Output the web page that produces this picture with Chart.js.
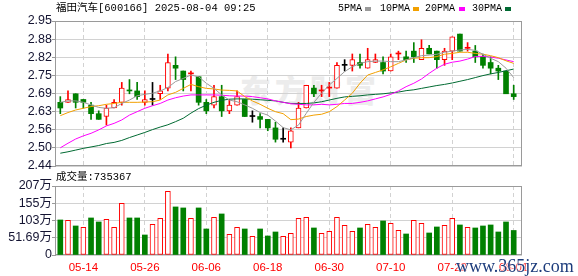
<!DOCTYPE html>
<html><head><meta charset="utf-8">
<script src="https://cdn.jsdelivr.net/npm/chart.js@4.4.1/dist/chart.umd.min.js"></script>
<style>
html,body{margin:0;padding:0;background:#fff;}
#wrap{position:relative;width:578px;height:276px;overflow:hidden;background:#fff;}
canvas{position:absolute;left:0;}
#price{top:0;}
#vol{top:170px;}
.t{position:absolute;white-space:nowrap;font-family:"Liberation Mono","Noto Sans CJK SC",monospace;color:#000;}
#title{left:56px;top:1px;font-size:10.5px;line-height:14px;}
.lg{top:2px;font-size:10px;line-height:14px;}
.sq{position:absolute;top:7px;width:6px;height:4px;}
#wm{position:absolute;left:240px;top:66px;font-family:"Noto Sans CJK SC";font-weight:900;font-size:31px;color:#ececec;letter-spacing:4px;white-space:nowrap;}
#voltitle{left:56px;top:170px;font-size:10.5px;line-height:14px;}
#site{position:absolute;left:456px;top:256px;font-family:"Liberation Serif",serif;font-size:18px;line-height:20px;color:#1d3c7c;white-space:nowrap;text-shadow:0 0 2px #fff,0 0 2px #fff,0 0 3px #fff;}
</style></head>
<body>
<div id="wrap">
<div id="wm">东方财富</div>
<canvas id="price" width="578" height="178"></canvas>
<canvas id="vol" width="578" height="106"></canvas>
<div id="title" class="t"></div>
<div id="legend"></div>
<div id="voltitle" class="t"></div>
<div id="site">www.365jz.com</div>
</div>
<script>
// ---------------- data ----------------
const stockTitle = '福田汽车[600166] 2025-08-04 09:25';
const dates = ['05-09','05-12','05-13','05-14','05-15','05-16','05-19','05-20','05-21','05-22',
  '05-23','05-26','05-27','05-28','05-29','05-30','06-03','06-04','06-05','06-06',
  '06-09','06-10','06-11','06-12','06-13','06-16','06-17','06-18','06-19','06-20',
  '06-23','06-24','06-25','06-26','06-27','06-30','07-01','07-02','07-03','07-04',
  '07-07','07-08','07-09','07-10','07-11','07-14','07-15','07-16','07-17','07-18',
  '07-21','07-22','07-23','07-24','07-25','07-28','07-29','07-30','07-31','08-01'];
const xTickLabels = ['05-14','05-26','06-06','06-18','06-30','07-10','07-22','08-01'];

const open = [2.66,2.66,2.69,2.67,2.65,2.62,2.61,2.64,2.66,2.70,
  2.70,2.66,2.67,2.69,2.71,2.79,2.77,2.76,2.75,2.66,
  2.65,2.68,2.63,2.65,2.67,2.61,2.61,2.60,2.57,2.53,
  2.52,2.57,2.64,2.71,2.70,2.71,2.71,2.79,2.79,2.80,
  2.78,2.80,2.80,2.77,2.83,2.82,2.84,2.81,2.85,2.84,
  2.81,2.84,2.90,2.85,2.84,2.82,2.80,2.78,2.77,2.69];
const high = [2.68,2.70,2.69,2.67,2.66,2.63,2.65,2.67,2.73,2.74,
  2.73,2.70,2.73,2.72,2.83,2.82,2.77,2.77,2.75,2.67,
  2.72,2.72,2.67,2.70,2.67,2.63,2.62,2.60,2.59,2.57,
  2.57,2.66,2.72,2.72,2.72,2.73,2.80,2.81,2.83,2.83,
  2.85,2.83,2.82,2.83,2.84,2.84,2.87,2.88,2.86,2.84,
  2.85,2.89,2.90,2.87,2.86,2.83,2.82,2.79,2.77,2.72];
const low = [2.62,2.66,2.64,2.64,2.60,2.60,2.58,2.64,2.65,2.69,
  2.67,2.65,2.65,2.67,2.70,2.74,2.70,2.70,2.65,2.62,
  2.64,2.61,2.62,2.65,2.61,2.59,2.57,2.56,2.52,2.52,
  2.50,2.57,2.64,2.68,2.68,2.68,2.71,2.77,2.77,2.78,
  2.78,2.80,2.76,2.77,2.81,2.80,2.80,2.81,2.83,2.78,
  2.79,2.81,2.84,2.84,2.80,2.78,2.76,2.74,2.69,2.67];
const close = [2.64,2.67,2.66,2.66,2.62,2.60,2.64,2.66,2.71,2.70,
  2.68,2.67,2.67,2.70,2.80,2.78,2.74,2.76,2.66,2.63,
  2.68,2.63,2.65,2.68,2.61,2.61,2.60,2.57,2.53,2.53,
  2.56,2.64,2.72,2.69,2.70,2.71,2.79,2.79,2.81,2.79,
  2.81,2.81,2.77,2.82,2.83,2.81,2.82,2.85,2.83,2.81,
  2.84,2.89,2.84,2.85,2.82,2.79,2.78,2.77,2.69,2.68];
// volume in 万股
const volume = [105,104,87,83,111,99,107,83,155,111,
  111,60,92,110,191,144,141,110,141,78,
  113,123,62,83,78,56,78,57,69,56,
  65,110,113,81,65,71,113,89,71,81,
  92,83,102,95,74,63,104,95,66,84,
  89,110,90,83,81,87,90,69,99,73.5367];
const lastVolume = 735367;

const ma5 = [2.660,2.665,2.665,2.660,2.651,2.642,2.639,2.641,2.656,2.668,
  2.683,2.688,2.692,2.700,2.712,2.733,2.744,2.756,2.750,2.727,
  2.709,2.686,2.668,2.662,2.651,2.639,2.624,2.615,2.594,2.571,
  2.563,2.580,2.621,2.660,2.692,2.721,2.744,2.768,2.785,2.797,
  2.803,2.805,2.805,2.803,2.803,2.809,2.817,2.824,2.826,2.829,
  2.836,2.840,2.844,2.846,2.843,2.829,2.815,2.803,2.780,2.747];
const ma10 = [2.613,2.624,2.633,2.639,2.645,2.648,2.653,2.656,2.660,2.660,
  2.660,2.661,2.662,2.668,2.686,2.695,2.709,2.723,2.715,2.709,
  2.707,2.703,2.702,2.700,2.680,2.665,2.653,2.639,2.627,2.620,
  2.599,2.601,2.610,2.615,2.618,2.627,2.645,2.668,2.692,2.727,
  2.756,2.765,2.774,2.785,2.797,2.809,2.815,2.817,2.817,2.821,
  2.829,2.832,2.836,2.836,2.832,2.829,2.824,2.817,2.806,2.797];
const ma20 = [2.500,2.516,2.531,2.542,2.551,2.563,2.577,2.586,2.598,2.615,
  2.627,2.639,2.648,2.656,2.668,2.676,2.682,2.686,2.686,2.686,
  2.686,2.685,2.683,2.682,2.682,2.680,2.676,2.672,2.665,2.660,
  2.655,2.653,2.651,2.651,2.653,2.651,2.653,2.656,2.656,2.660,
  2.665,2.672,2.679,2.688,2.700,2.715,2.727,2.742,2.762,2.780,
  2.794,2.801,2.805,2.812,2.821,2.822,2.819,2.815,2.809,2.803];
const ma30 = [2.481,2.486,2.492,2.498,2.503,2.508,2.515,2.519,2.526,2.536,
  2.545,2.554,2.564,2.573,2.581,2.592,2.604,2.622,2.638,2.650,
  2.660,2.667,2.671,2.672,2.672,2.671,2.669,2.667,2.665,2.660,
  2.656,2.656,2.656,2.658,2.662,2.668,2.674,2.679,2.681,2.683,
  2.686,2.688,2.690,2.693,2.696,2.701,2.704,2.709,2.714,2.719,
  2.723,2.728,2.734,2.740,2.747,2.754,2.760,2.765,2.771,2.777];

const priceTickLabels = ['2.44','2.50','2.56','2.63','2.69','2.75','2.82','2.88','2.95'];
const priceMin = 2.436, priceMax = 2.946;
const volTickLabels = ['0','51.69万','103万','155万','207万'];
const volMax = 206.76;
const legendNames = ['5PMA','10PMA','20PMA','30PMA'];

// ---------------- style ----------------
const RED = '#ff0000', GREEN = '#008000', BLACK = '#000000';
const maColors = ['#9a9a9a','#f2a000','#ff00ff','#006a32'];
const FRAME = '#9a9a9a', GRID = '#d2d2d2';
const LABEL = '#141432';
const xMin = -0.69, xMax = 60.08;

document.getElementById('title').textContent = stockTitle;
document.getElementById('voltitle').textContent = '成交量:' + lastVolume;
const lgPos = [[338,365],[380,413],[425,459],[472,505]];
const lg = document.getElementById('legend');
legendNames.forEach((n,i)=>{
  const t = document.createElement('div'); t.className='t lg'; t.style.left=lgPos[i][0]+'px'; t.textContent=n; lg.appendChild(t);
  const s = document.createElement('div'); s.className='sq'; s.style.left=lgPos[i][1]+'px'; s.style.background=maColors[i]; lg.appendChild(s);
});

const candleCol = close.map((c,i)=> c>open[i] ? RED : c<open[i] ? GREEN :
  (i===0 ? BLACK : c>close[i-1] ? RED : c<close[i-1] ? GREEN : BLACK));
const hollow = close.map((c,i)=> c>open[i]);
const volUp = close.map((c,i)=> i===0 ? c>=open[i] : c>=close[i-1]);
const tickIdx = xTickLabels.map(l=>dates.indexOf(l));

const framePlugin = {
  id:'frame',
  beforeDatasetsDraw(chart){
    const {ctx, chartArea:a} = chart;
    ctx.save(); ctx.strokeStyle = FRAME; ctx.lineWidth = 1;
    ctx.strokeRect(Math.round(a.left)+0.5, Math.round(a.top)+0.5, Math.round(a.right-a.left)-1, Math.round(a.bottom-a.top)-1);
    ctx.restore();
  }
};

Chart.defaults.font.family = '"Liberation Sans","Noto Sans CJK SC",Arial,sans-serif';
Chart.defaults.font.size = 12.5;

const xScale = (showLabels)=>({
  type:'linear', min:xMin, max:xMax, offset:false,
  afterBuildTicks: s=>{ s.ticks = tickIdx.map(v=>({value:v})); },
  afterFit: s=>{ s.height = showLabels ? 21 : 0; },
  grid:{color:GRID, offset:false, drawTicks:false, lineWidth:1},
  border:{display:false, dash:[4,3]},
  ticks:{display:showLabels, autoSkip:false, maxRotation:0, padding:6, color:'#ff0000',
    font:{size:11.5}, callback:(v,i)=>xTickLabels[i]}
});

const xy = arr => arr.map((v,i)=>({x:i, y:v}));
const maDs = [ma5,ma10,ma20,ma30].map((arr,k)=>({
  type:'line', label:legendNames[k], data:xy(arr), borderColor:maColors[k], borderWidth:1,
  pointRadius:0, tension:0, fill:false, order:k
}));

new Chart(document.getElementById('price'), {
  type:'bar',
  data:{datasets:[
    ...maDs,
    {type:'bar', label:'body', data:open.map((o,i)=>({x:i, y:[o, close[i]]})),
      backgroundColor: candleCol.map((c,i)=> hollow[i] ? '#ffffff' : c),
      borderColor: candleCol, borderWidth: hollow.map(h=> h?1:0), borderSkipped:false,
      barThickness:5, minBarLength:1, grouped:false, order:10},
    {type:'bar', label:'wick', data:low.map((l,i)=>({x:i, y:[l, high[i]]})),
      backgroundColor:candleCol, borderWidth:0, barThickness:1, grouped:false, order:11}
  ]},
  options:{
    responsive:false, animation:false, events:[],
    layout:{padding:{left:0, right:56, top:21, bottom:12}},
    plugins:{legend:{display:false}, tooltip:{enabled:false}},
    scales:{
      x: xScale(false),
      y:{type:'linear', min:priceMin, max:priceMax, beginAtZero:false,
        afterBuildTicks: s=>{ const n=priceTickLabels.length; s.ticks = priceTickLabels.map((_,i)=>({value: priceMin + i*(priceMax-priceMin)/(n-1)})); },
        afterFit: s=>{ s.width = 55; },
        grid:{color:GRID, tickColor:FRAME, tickLength:3, drawTicks:true},
        border:{display:true, color:FRAME},
        ticks:{autoSkip:false, padding:0, color:LABEL, callback:(v,i)=>priceTickLabels[i]}
      }
    }
  },
  plugins:[framePlugin]
});

new Chart(document.getElementById('vol'), {
  type:'bar',
  data:{datasets:[
    {label:'volume', data:xy(volume),
      backgroundColor: volUp.map(u=> u ? '#ffffff' : GREEN),
      borderColor: volUp.map(u=> u ? RED : GREEN),
      borderWidth: volUp.map(u=> u ? 1 : 0), borderSkipped:false,
      barThickness:5, grouped:false}
  ]},
  options:{
    responsive:false, animation:false, events:[],
    layout:{padding:{left:0, right:56, top:16, bottom:0}},
    plugins:{legend:{display:false}, tooltip:{enabled:false}},
    scales:{
      x: xScale(true),
      y:{type:'linear', min:0, max:volMax, beginAtZero:true,
        afterBuildTicks: s=>{ const n=volTickLabels.length; s.ticks = volTickLabels.map((_,i)=>({value: i*volMax/(n-1)})); },
        afterFit: s=>{ s.width = 55; },
        grid:{color:GRID, tickColor:FRAME, tickLength:3, drawTicks:true},
        border:{display:true, color:FRAME},
        ticks:{autoSkip:false, padding:0, color:LABEL, callback:(v,i)=>volTickLabels[i]}
      }
    }
  },
  plugins:[framePlugin]
});
</script>
</body></html>
